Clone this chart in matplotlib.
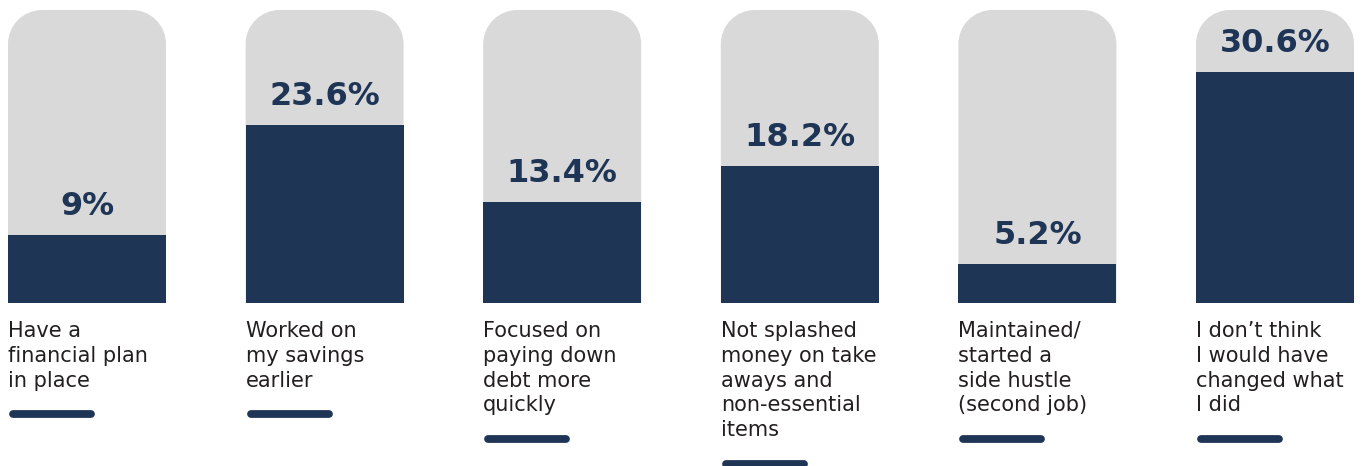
import matplotlib
matplotlib.use("Agg")
import matplotlib.pyplot as plt
from matplotlib.patches import PathPatch
from matplotlib.path import Path

# Survey responses (% of respondents)
categories = [
    "Have a\nfinancial plan\nin place",
    "Worked on\nmy savings\nearlier",
    "Focused on\npaying down\ndebt more\nquickly",
    "Not splashed\nmoney on take\naways and\nnon-essential\nitems",
    "Maintained/\nstarted a\nside hustle\n(second job)",
    "I don\u2019t think\nI would have\nchanged what\nI did",
]
values = [9.0, 23.6, 13.4, 18.2, 5.2, 30.6]
value_labels = ["9%", "23.6%", "13.4%", "18.2%", "5.2%", "30.6%"]

NAVY = "#1F3556"
GREY = "#D9D9D9"
TEXT = "#231F20"

W, H, DPI = 1364, 466, 100
fig = plt.figure(figsize=(W / DPI, H / DPI), dpi=DPI)
ax = fig.add_axes([0, 0, 1, 1])
ax.set_axis_off()

# layout: pixel scale of the axes
px_x = 237.6          # pixels per column step
px_y = 7.55           # pixels per percentage point
base_px = 303         # baseline (0 %) from top
col_w = 158 / px_x
first_px = 87
ax.set_xlim(-first_px / px_x, (W - first_px) / px_x)
ax.set_ylim(-(H - base_px) / px_y, base_px / px_y)

track_top = (base_px - 10) / px_y
radius_px = 34
rx = radius_px / px_x
ry = radius_px / px_y
k = 0.5523  # cubic bezier circle constant


def rounded_top(left, width, top):
    right = left + width
    verts = [
        (left, 0), (left, top - ry),
        (left, top - ry + k * ry), (left + rx - k * rx, top), (left + rx, top),
        (right - rx, top),
        (right - rx + k * rx, top), (right, top - ry + k * ry), (right, top - ry),
        (right, 0), (left, 0),
    ]
    codes = [Path.MOVETO, Path.LINETO,
             Path.CURVE4, Path.CURVE4, Path.CURVE4,
             Path.LINETO,
             Path.CURVE4, Path.CURVE4, Path.CURVE4,
             Path.LINETO, Path.CLOSEPOLY]
    return Path(verts, codes)


xs = list(range(len(values)))

for x in xs:
    ax.add_patch(PathPatch(rounded_top(x - col_w / 2, col_w, track_top),
                           fc=GREY, ec="none", zorder=1))

ax.bar(xs, values, width=col_w, bottom=0, color=NAVY, zorder=2)

for x, v, lab in zip(xs, values, value_labels):
    ax.text(x, v + 20 / px_y, lab, ha="center", va="baseline",
            fontsize=23, fontweight="bold", color=NAVY, family="DejaVu Sans", zorder=3)

line_px = 25.5
for x, cat in zip(xs, categories):
    left = x - col_w / 2
    ax.text(left, -(321 - base_px) / px_y, cat, ha="left", va="top",
            fontsize=15, color=TEXT, family="DejaVu Sans",
            linespacing=1.3, zorder=3)
    n = cat.count("\n") + 1
    y_line = -(323 + n * line_px + 14 - base_px) / px_y
    ax.plot([left + 5 / px_x, left + 83 / px_x], [y_line, y_line],
            color=NAVY, lw=5.6, solid_capstyle="round", zorder=3)

fig.savefig("out.png", dpi=DPI)
